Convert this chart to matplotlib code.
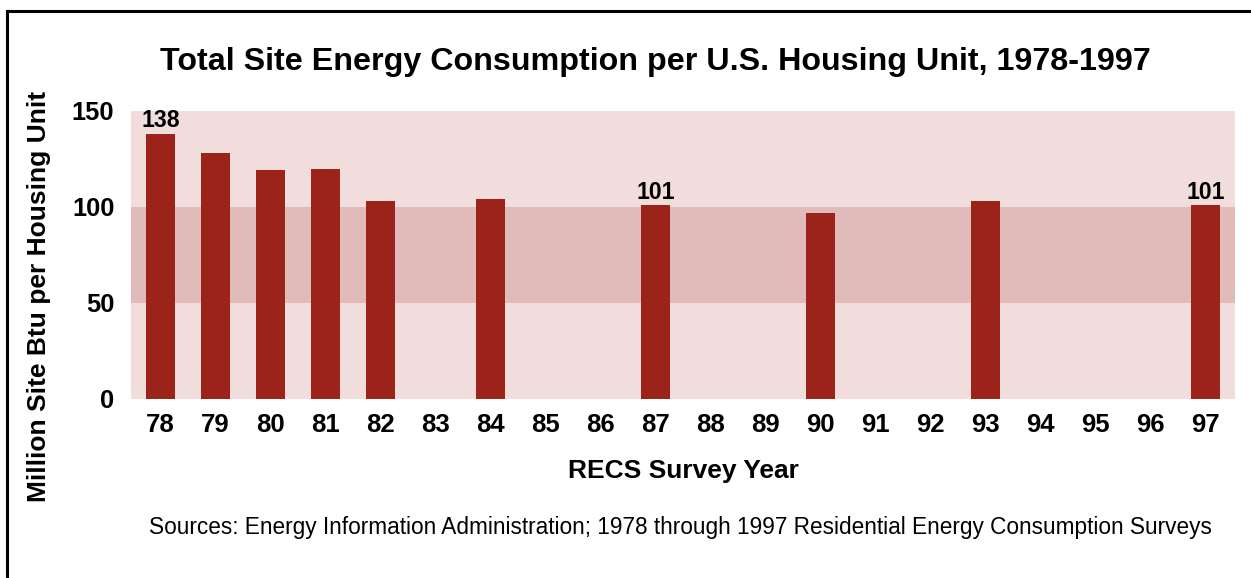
import numpy as np
from matplotlib import pyplot as plt

years = ["78", "79", "80", "81", "82", "83", "84", "85", "86", "87",
         "88", "89", "90", "91", "92", "93", "94", "95", "96", "97"]
# nan = no survey that year
consumption = [138, 128, 119, 120, 103, np.nan, 104, np.nan, np.nan, 101,
               np.nan, np.nan, 97, np.nan, np.nan, 103, np.nan, np.nan, np.nan, 101]
labelled = ["78", "87", "97"]
yticks = [0, 50, 100, 150]

bar_color = "#9b2319"
light_band = "#f0dddc"
dark_band = "#e0bbba"

plt.rcParams['font.family'] = ['Liberation Sans', 'DejaVu Sans']

fig = plt.figure(figsize=(12.51, 5.78), dpi=100)
ax = fig.add_axes([0.1047, 0.3097, 0.8825, 0.4983])

x = np.arange(len(years))
ax.axhspan(0, 50, color=light_band, lw=0, zorder=0)
ax.axhspan(50, 100, color=dark_band, lw=0, zorder=0)
ax.axhspan(100, 150, color=light_band, lw=0, zorder=0)
ax.bar(x, consumption, width=0.53, color=bar_color, zorder=2)

for i, yr in enumerate(years):
    if yr in labelled:
        ax.text(x[i], consumption[i] + 0.8, "%d" % consumption[i], ha="center", va="bottom",
                fontsize=16.6, fontweight="bold", zorder=3)

ax.set_xlim(-0.536, len(years) - 1 + 0.536)
ax.set_ylim(0, 150)
ax.set_xticks(x)
ax.set_xticklabels(years, fontsize=18.5, fontweight="bold")
ax.set_yticks(yticks)
ax.set_yticklabels([str(v) for v in yticks], fontsize=18.3, fontweight="bold")
ax.tick_params(axis="x", length=0, pad=10)
ax.tick_params(axis="y", length=0, pad=12)
for s in ax.spines.values():
    s.set_visible(False)

fig.text(0.524, 0.892, "Total Site Energy Consumption per U.S. Housing Unit, 1978-1997",
         ha="center", va="center", fontsize=23.2, fontweight="bold")
fig.text(0.546, 0.185, "RECS Survey Year", ha="center", va="center",
         fontsize=19, fontweight="bold")
fig.text(0.031, 0.487, "Million Site Btu per Housing Unit", ha="center", va="center",
         rotation=90, fontsize=19, fontweight="bold")
fig.text(0.544, 0.088,
         "Sources: Energy Information Administration; 1978 through 1997 Residential Energy Consumption Surveys",
         ha="center", va="center", fontsize=16.3)

# frame around the figure (right/bottom edges are off-canvas)
fig.add_artist(plt.Line2D([7 / 1251, 7 / 1251], [0, 1 - 11 / 578], transform=fig.transFigure,
                          color="black", lw=2.2))
fig.add_artist(plt.Line2D([7 / 1251, 1], [1 - 11 / 578, 1 - 11 / 578], transform=fig.transFigure,
                          color="black", lw=2.2))

fig.savefig("out.png", dpi=100)
